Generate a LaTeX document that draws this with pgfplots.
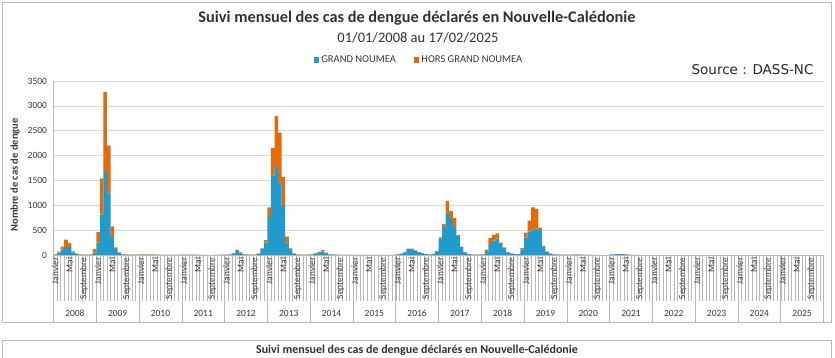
\documentclass[border=0pt]{standalone}
\usepackage{fontspec}
\setmainfont{Carlito}
\newfontfamily\srcfont{DejaVu Sans}
\usepackage{pgfplots}
\usepackage{pgfplotstable}
\pgfplotsset{compat=1.18}
\definecolor{gn}{RGB}{32,155,204}
\definecolor{hgn}{RGB}{227,108,9}
\definecolor{gridc}{RGB}{217,217,217}
\definecolor{linec}{RGB}{185,185,185}
\definecolor{txt}{RGB}{55,55,55}
\definecolor{ttl}{RGB}{50,50,50}

\pgfplotstableread{
i gn hgn
0 15 5
1 50 20
2 110 60
3 160 150
4 160 80
5 55 20
6 30 5
7 8 2
8 4 1
9 4 1
10 8 2
11 50 70
12 250 210
13 810 730
14 1670 1610
15 1240 960
16 365 210
17 120 35
18 45 10
19 15 5
20 8 2
21 4 1
22 4 1
23 4 1
24 3 7
25 5 10
26 5 10
27 3 7
28 2 5
29 2 3
30 1 2
31 1 1
32 1 1
33 1 1
34 1 2
35 2 3
36 2 3
37 3 4
38 3 5
39 2 3
40 1 2
41 1 1
42 0 1
43 0 0
44 0 0
45 1 1
46 1 1
47 2 3
48 4 1
49 8 2
50 35 5
51 85 15
52 45 10
53 15 5
54 8 2
55 4 1
56 4 1
57 30 5
58 120 15
59 250 50
60 760 200
61 1600 550
62 1770 1030
63 1460 1000
64 990 580
65 250 120
66 100 35
67 28 7
68 8 2
69 4 1
70 4 1
71 8 2
72 15 5
73 30 10
74 45 15
75 70 30
76 40 10
77 15 5
78 8 2
79 4 1
80 2 1
81 2 1
82 2 1
83 2 1
84 2 1
85 2 1
86 3 1
87 3 1
88 2 1
89 1 0
90 1 0
91 1 0
92 1 0
93 1 0
94 1 0
95 2 1
96 13 2
97 27 3
98 55 5
99 120 10
100 120 10
101 90 10
102 60 5
103 37 3
104 18 2
105 9 1
106 18 2
107 75 10
108 330 25
109 560 60
110 850 240
111 720 160
112 560 180
113 380 20
114 160 10
115 55 5
116 18 2
117 9 1
118 4 1
119 8 2
120 15 5
121 60 50
122 220 120
123 290 120
124 330 105
125 220 30
126 140 15
127 55 10
128 30 5
129 17 3
130 17 3
131 110 30
132 350 100
133 470 220
134 510 450
135 530 400
136 500 50
137 170 20
138 60 10
139 25 5
140 12 3
141 8 2
142 4 1
143 4 1
144 2 3
145 3 5
146 5 8
147 5 10
148 3 5
149 2 2
150 1 1
151 1 0
152 0 0
153 0 0
154 0 0
155 0 0
156 10 1
157 15 1
158 20 2
159 20 2
160 15 1
161 5 1
162 2 0
163 1 0
164 0 0
165 0 0
166 0 0
167 0 0
}\data

\begin{document}
\begin{tikzpicture}[x=1pt,y=1pt]
\useasboundingbox (0,0) rectangle (835,358);
% outer frames
\draw[linec, line width=0.7pt] (2.5,355.5) rectangle (831.5,35.5);
\draw[linec, line width=0.7pt] (2.5,0) -- (2.5,18) -- (831.5,18) -- (831.5,0);
\node[font=\fontsize{12}{14}\selectfont\bfseries, text=ttl] at (417,8) {Suivi mensuel des cas de dengue déclarés en Nouvelle-Calédonie};
% titles
\node[font=\fontsize{16.3}{19}\selectfont\bfseries, text=ttl] at (417,340) {Suivi mensuel des cas de dengue déclarés en Nouvelle-Calédonie};
\node[font=\fontsize{14.5}{17}\selectfont, text=ttl] at (418,320) {01/01/2008 au 17/02/2025};
\node[font=\srcfont\fontsize{13.5}{16}\selectfont, anchor=east, text=black!85] at (817,288) {Source : DASS-NC};
\node[font=\fontsize{10.5}{12}\selectfont\bfseries, rotate=90, text=txt] at (15,183) {Nombre de cas de dengue};
% category axis lines
\foreach \j in {0,...,216} {
  \draw[linec, line width=0.45pt] ({53.5+\j*3.564815},103) -- ++(0,-46);
}
\foreach \k in {0,...,18} {
  \draw[linec, line width=0.6pt] ({53.5+\k*42.77778},103) -- ++(0,-67.5);
}
\foreach \k in {0,...,17} {
  \pgfmathtruncatemacro\yr{2008+\k}
  \node[font=\fontsize{9.5}{10}\selectfont, text=txt] at ({53.5+(\k+0.5)*42.77778},45) {\yr};
}
\begin{axis}[
  at={(53.5pt,103pt)}, anchor=south west,
  scale only axis, width=770pt, height=174pt,
  xmin=-0.5, xmax=215.5, ymin=0, ymax=3500,
  ybar stacked, bar width=1,
  ytick={0,500,...,3500},
  ymajorgrids, grid style={gridc, line width=0.6pt},
  axis lines*=left, axis line style={linec, line width=0.6pt},
  major tick length=0pt,
  /pgf/number format/1000 sep={},
  /pgf/number format/assume math mode=true,
  yticklabel style={font=\fontsize{9.5}{10}\selectfont, text=txt, xshift=-3pt},
  xtick={0,4,...,212},
  xticklabel={\pgfmathtruncatemacro\mm{mod(\tick,12)}\ifcase\mm Janvier\or\or\or\or Mai\or\or\or\or Septembre\else\fi},
  xticklabel style={rotate=90, anchor=east, font=\fontsize{9.3}{10}\selectfont, text=txt, inner sep=2.5pt},
  legend style={at={(0.4747,1.1207)}, anchor=center, draw=none, fill=none,
    legend columns=2, font=\fontsize{10.5}{12}\selectfont, text=txt,
    /tikz/every even column/.append style={column sep=16pt}},
  legend image code/.code={\fill[#1] (0pt,-2.8pt) rectangle (5.6pt,2.8pt);},
]
\addplot[fill=gn, draw=none] table[x=i, y=gn] {\data};
\addlegendentry{GRAND NOUMEA}
\addplot[fill=hgn, draw=none] table[x=i, y=hgn] {\data};
\addlegendentry{HORS GRAND NOUMEA}
\end{axis}
\end{tikzpicture}
\end{document}
